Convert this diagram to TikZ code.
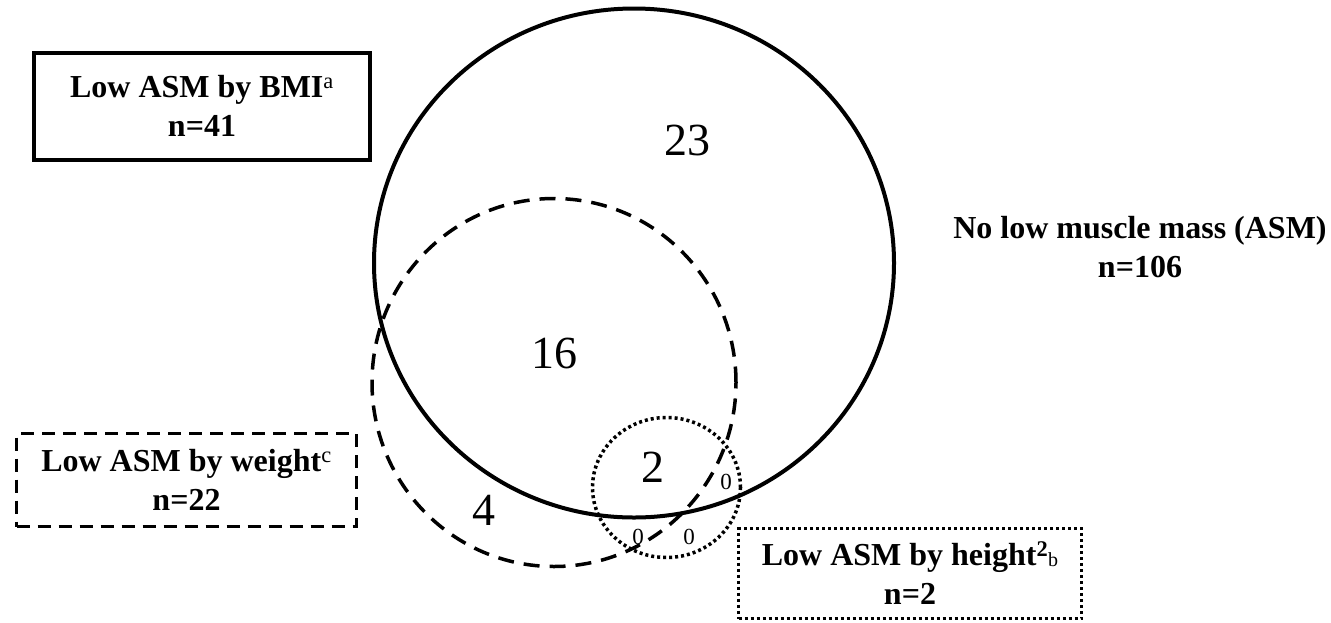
\documentclass[tikz,border=0pt]{standalone}
\usepackage{fontspec}
\setmainfont{Liberation Serif}
\begin{document}
\begin{tikzpicture}[x=1pt,y=-1pt,
  lab/.style={font=\fontsize{32}{39}\selectfont\bfseries, align=center, inner sep=0pt},
  big/.style={font=\fontsize{46}{46}\selectfont, inner sep=0pt},
  small/.style={font=\fontsize{23}{23}\selectfont, inner sep=0pt},
  boxsolid/.style={lab, draw, line width=4pt},
  boxdashed/.style={lab, draw, line width=3.5pt, dash pattern=on 13pt off 8pt},
  boxdotted/.style={lab, draw, line width=3.5pt, dash pattern=on 3pt off 3pt},
  solidcirc/.style={draw, line width=4pt},
  dashcirc/.style={draw, line width=3.5pt, dash pattern=on 16pt off 10pt},
  dotcirc/.style={draw, line width=3.5pt, dash pattern=on 3pt off 3pt}
]
\useasboundingbox (0,0) rectangle (1331,622);
% circles
\draw[solidcirc] (634,263) ellipse [x radius=260pt, y radius=254.5pt];
\draw[dashcirc] (554,382.5) ellipse [x radius=182pt, y radius=184pt];
\draw[dotcirc] (666.5,487.5) ellipse [x radius=74pt, y radius=70pt];
% boxes
\node[boxsolid, minimum width=336pt, minimum height=107pt] (bmi) at (202,106)
  {Low ASM by BMI\textsuperscript{\mdseries a}\\n=41};
\node[boxdashed, minimum width=340pt, minimum height=93pt] (wt) at (186.5,480)
  {Low ASM by weight\textsuperscript{\mdseries c}\\n=22};
\node[boxdotted, minimum width=343pt, minimum height=90pt] (ht) at (910,573.5)
  {Low ASM by height\textsuperscript{2}\raisebox{-1pt}{\mdseries\fontsize{20}{20}\selectfont b}\\n=2};
\node[lab] (none) at (1140,247.5) {No low muscle mass (ASM)\\n=106};
% counts
\node[big] (n23) at (687,140) {23};
\node[big] (n16) at (554,353) {16};
\node[big] (n2) at (653,467) {2};
\node[big] (n4) at (484,510) {4};
\node[small] (z1) at (726,482) {0};
\node[small] (z2) at (638,537) {0};
\node[small] (z3) at (689,537) {0};
\end{tikzpicture}
\end{document}
